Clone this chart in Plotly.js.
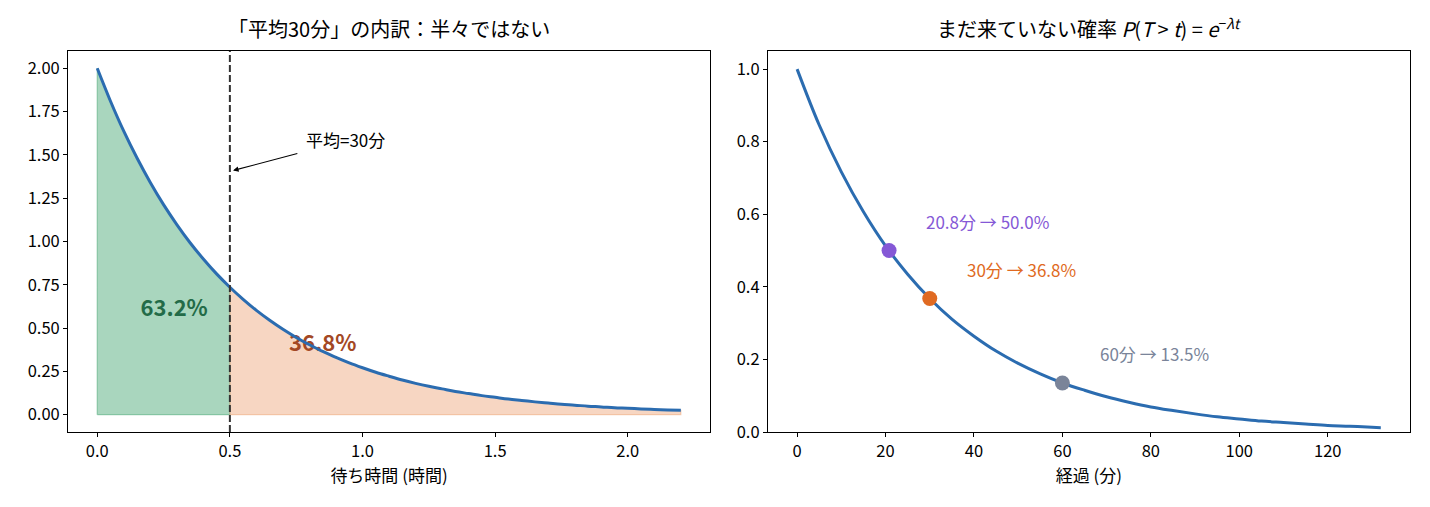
<!DOCTYPE html>
<html>
<head>
<meta charset="utf-8">
<script src="https://cdn.plot.ly/plotly-3.0.1.min.js"></script>
<style>
  html, body { margin: 0; padding: 0; background: #fff; }
  #chart { width: 1430px; height: 507px; }
</style>
</head>
<body>
<div id="chart"></div>
<script>
// left panel: waiting time density (hours)
var waitHours = [0.00, 0.05, 0.10, 0.15, 0.20, 0.25, 0.30, 0.35, 0.40, 0.45, 0.50,
                 0.55, 0.60, 0.65, 0.70, 0.75, 0.80, 0.85, 0.90, 0.95, 1.00,
                 1.05, 1.10, 1.15, 1.20, 1.25, 1.30, 1.35, 1.40, 1.45, 1.50,
                 1.55, 1.60, 1.65, 1.70, 1.75, 1.80, 1.85, 1.90, 1.95, 2.00,
                 2.05, 2.10, 2.15, 2.20];
var density = [2.000, 1.810, 1.637, 1.482, 1.341, 1.213, 1.098, 0.993, 0.899, 0.813, 0.736,
               0.666, 0.602, 0.545, 0.493, 0.446, 0.404, 0.365, 0.331, 0.299, 0.271,
               0.245, 0.222, 0.200, 0.181, 0.164, 0.149, 0.134, 0.122, 0.110, 0.100,
               0.090, 0.082, 0.074, 0.067, 0.060, 0.055, 0.049, 0.045, 0.040, 0.037,
               0.033, 0.030, 0.027, 0.025];
var meanHours = 0.5;
var shareLabels = ['63.2%', '36.8%'];
var sharePosX = [0.29, 0.85];
var sharePosY = [0.60, 0.40];

// right panel: probability of not yet arrived (minutes)
var elapsedMin = [0, 5, 10, 15, 20, 25, 30, 35, 40, 45, 50, 55, 60, 65, 70,
                  75, 80, 85, 90, 95, 100, 105, 110, 115, 120, 125, 130, 132];
var survival = [1.000, 0.846, 0.717, 0.607, 0.513, 0.435, 0.368, 0.311, 0.264, 0.223,
                0.189, 0.160, 0.135, 0.115, 0.097, 0.082, 0.069, 0.059, 0.050, 0.042,
                0.036, 0.030, 0.026, 0.022, 0.018, 0.016, 0.013, 0.012];
var pointMin = [20.8, 30, 60];
var pointProb = [0.500, 0.368, 0.135];
var pointLabels = ['20.8分 → 50.0%', '30分 → 36.8%', '60分 → 13.5%'];
var pointColors = ['#8558d6', '#e06a22', '#7a8499'];

var font = '"Noto Sans CJK JP", "Noto Sans", sans-serif';
var blue = '#2b6cb0';

// split the density into the part before / after the mean
function part(keep) {
  var xs = [], ys = [];
  for (var i = 0; i < waitHours.length; i++) {
    if (keep(waitHours[i])) { xs.push(waitHours[i]); ys.push(density[i]); }
  }
  // close the polygon down to zero
  var px = [xs[0]].concat(xs, [xs[xs.length - 1], xs[0]]);
  var py = [0].concat(ys, [0, 0]);
  return {x: px, y: py};
}
var before = part(function(t) { return t <= meanHours; });
var after = part(function(t) { return t >= meanHours; });

var data = [
  {
    x: before.x, y: before.y, xaxis: 'x', yaxis: 'y',
    type: 'scatter', mode: 'lines', fill: 'toself',
    fillcolor: 'rgba(83,173,125,0.5)',
    line: {color: 'rgba(83,173,125,0.55)', width: 1.2},
    hoverinfo: 'skip', showlegend: false
  },
  {
    x: after.x, y: after.y, xaxis: 'x', yaxis: 'y',
    type: 'scatter', mode: 'lines', fill: 'toself',
    fillcolor: 'rgba(238,165,120,0.45)',
    line: {color: 'rgba(238,165,120,0.5)', width: 1.2},
    hoverinfo: 'skip', showlegend: false
  },
  {
    x: [sharePosX[0]], y: [sharePosY[0]], xaxis: 'x', yaxis: 'y',
    type: 'scatter', mode: 'text', text: ['<b>' + shareLabels[0] + '</b>'],
    textposition: 'middle center',
    textfont: {family: font, size: 22, color: '#236b48'},
    showlegend: false, hoverinfo: 'skip'
  },
  {
    x: [sharePosX[1]], y: [sharePosY[1]], xaxis: 'x', yaxis: 'y',
    type: 'scatter', mode: 'text', text: ['<b>' + shareLabels[1] + '</b>'],
    textposition: 'middle center',
    textfont: {family: font, size: 22, color: '#a34824'},
    showlegend: false, hoverinfo: 'skip'
  },
  {
    x: waitHours, y: density, xaxis: 'x', yaxis: 'y',
    type: 'scatter', mode: 'lines',
    line: {color: blue, width: 3, shape: 'spline'},
    showlegend: false
  },
  {
    x: elapsedMin, y: survival, xaxis: 'x2', yaxis: 'y2',
    type: 'scatter', mode: 'lines', line: {color: blue, width: 3, shape: 'spline'},
    showlegend: false
  },
  {
    x: pointMin, y: pointProb, xaxis: 'x2', yaxis: 'y2',
    type: 'scatter', mode: 'markers',
    marker: {color: pointColors, size: 15},
    showlegend: false
  }
];

var annotations = [
  {
    text: '「平均30分」の内訳：半々ではない', xref: 'paper', yref: 'paper',
    x: 0.272, y: 1, yshift: 6, xanchor: 'center', yanchor: 'bottom', showarrow: false,
    font: {family: font, size: 20, color: '#000'}
  },
  {
    text: 'まだ来ていない確率 <i>P</i>(<i>T</i> > <i>t</i>) = <i>e</i><sup>−<i>λt</i></sup>',
    xref: 'paper', yref: 'paper',
    x: 0.7615, y: 1, yshift: 6, xanchor: 'center', yanchor: 'bottom', showarrow: false,
    font: {family: font, size: 20, color: '#000'}
  },
  {
    x: 0.512, y: 1.41, xref: 'x', yref: 'y',
    ax: 0.76, ay: 1.51, axref: 'x', ayref: 'y',
    text: '', showarrow: true, arrowhead: 2, arrowsize: 1, arrowwidth: 1.1, arrowcolor: '#000'
  },
  {
    x: 0.78, y: 1.59, xref: 'x', yref: 'y', xanchor: 'left', yanchor: 'middle',
    text: '平均=30分', showarrow: false,
    font: {family: font, size: 17, color: '#000'}
  }
];
for (var i = 0; i < pointMin.length; i++) {
  annotations.push({
    x: pointMin[i] + 8, y: pointProb[i] + 0.08, xref: 'x2', yref: 'y2',
    xanchor: 'left', yanchor: 'middle', showarrow: false,
    text: pointLabels[i],
    font: {family: font, size: 17, color: pointColors[i]}
  });
}

var axisBase = {
  showgrid: false, zeroline: false, showline: true, mirror: true,
  linecolor: '#000', linewidth: 1, ticks: 'outside', ticklen: 4, tickcolor: '#000',
  tickfont: {family: font, size: 16.5, color: '#000'}
};
function ax(extra) { return Object.assign({}, axisBase, extra); }

var layout = {
  width: 1430, height: 507,
  margin: {l: 0, r: 0, t: 51, b: 75},
  paper_bgcolor: '#fff', plot_bgcolor: '#fff',
  font: {family: font, color: '#000'},
  xaxis: ax({
    domain: [0.0476, 0.4965], anchor: 'y', range: [-0.11, 2.31],
    tickvals: [0, 0.5, 1, 1.5, 2], ticktext: ['0.0', '0.5', '1.0', '1.5', '2.0'],
    title: {text: '待ち時間 (時間)', font: {family: font, size: 17}, standoff: 6}
  }),
  yaxis: ax({
    domain: [0, 1], anchor: 'x', range: [-0.1, 2.1],
    tickvals: [0, 0.25, 0.5, 0.75, 1, 1.25, 1.5, 1.75, 2],
    ticktext: ['0.00', '0.25', '0.50', '0.75', '1.00', '1.25', '1.50', '1.75', '2.00']
  }),
  xaxis2: ax({
    domain: [0.537, 0.986], anchor: 'y2', range: [-6.6, 138.6],
    tickvals: [0, 20, 40, 60, 80, 100, 120],
    title: {text: '経過 (分)', font: {family: font, size: 17}, standoff: 6}
  }),
  yaxis2: ax({
    domain: [0, 1], anchor: 'x2', range: [0, 1.05],
    tickvals: [0, 0.2, 0.4, 0.6, 0.8, 1.0],
    ticktext: ['0.0', '0.2', '0.4', '0.6', '0.8', '1.0']
  }),
  shapes: [
    {
      type: 'line', xref: 'x', yref: 'y domain', x0: meanHours, x1: meanHours, y0: 0, y1: 1,
      line: {color: '#333', width: 2, dash: '7px,3px'}
    }
  ],
  annotations: annotations
};

Plotly.newPlot('chart', data, layout, {displayModeBar: false, responsive: false});
</script>
</body>
</html>
